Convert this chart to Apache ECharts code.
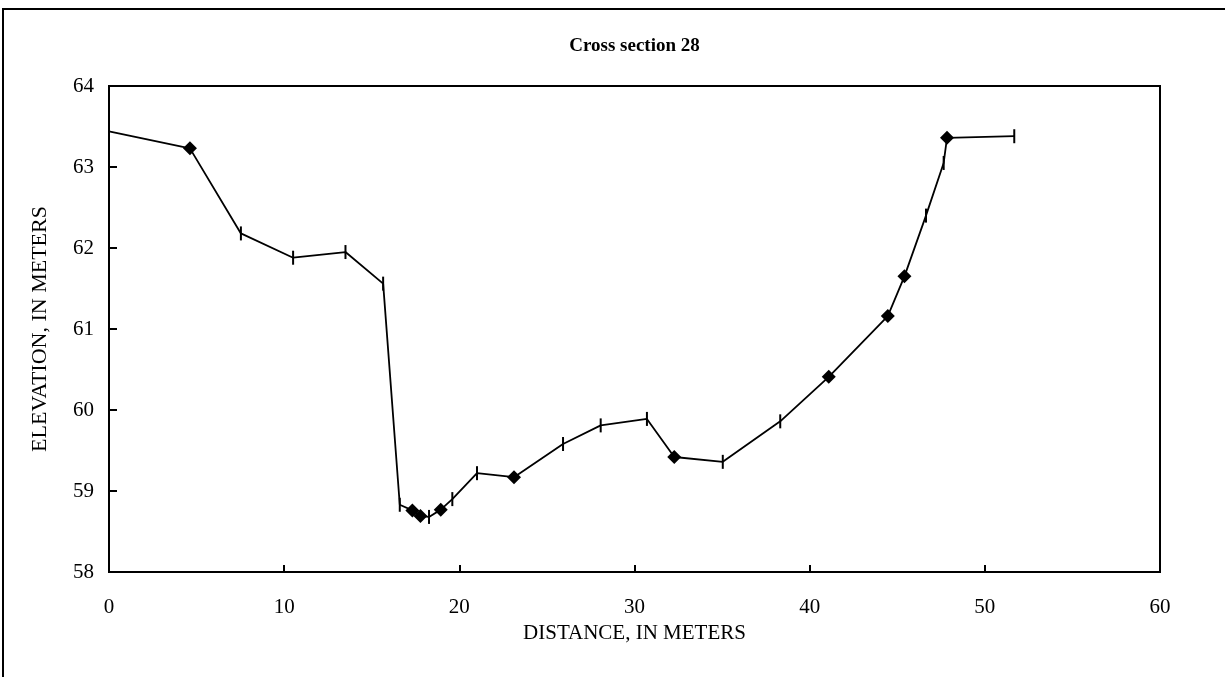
<!DOCTYPE html>
<html>
<head>
<meta charset="utf-8">
<script src="https://cdn.jsdelivr.net/npm/echarts@6/dist/echarts.min.js"></script>
<style>
html,body{margin:0;padding:0;background:#fff;}
#c{width:1225px;height:677px;}
</style>
</head>
<body>
<div id="c"></div>
<script>
// Data
var distance = [0, 4.62, 7.53, 10.51, 13.5, 15.65, 16.6, 17.32, 17.78, 18.27, 18.94, 19.6, 21.01, 23.12, 25.92, 28.07, 30.71, 32.27, 35.04, 38.32, 41.09, 44.46, 45.41, 46.64, 47.65, 47.84, 51.68];
var elevation = [63.44, 63.23, 62.18, 61.88, 61.95, 61.56, 58.83, 58.76, 58.69, 58.68, 58.77, 58.9, 59.22, 59.17, 59.58, 59.81, 59.89, 59.42, 59.36, 59.86, 60.41, 61.16, 61.65, 62.40, 63.05, 63.36, 63.38];
var markerType = ['tick','diamond','tick','tick','tick','tick','tick','diamond','diamond','tick','diamond','tick','tick','diamond','tick','tick','tick','diamond','tick','tick','diamond','diamond','diamond','tick','tick','diamond','tick'];
var xTicks = [0, 10, 20, 30, 40, 50, 60];
var yTicks = [58, 59, 60, 61, 62, 63, 64];
var titleText = 'Cross section 28';
var xName = 'DISTANCE, IN METERS';
var yName = 'ELEVATION, IN METERS';

var font = 'Liberation Serif, Times New Roman, serif';
var pts = distance.map(function (d, i) {
  var isD = markerType[i] === 'diamond';
  return {
    value: [d, elevation[i]],
    symbol: isD ? 'diamond' : 'rect',
    symbolSize: isD ? [14, 14] : [2, 14]
  };
});

var chart = echarts.init(document.getElementById('c'), null, {renderer: 'canvas'});
chart.setOption({
  backgroundColor: '#fff',
  animation: false,
  graphic: [{
    type: 'rect',
    x: 3, y: 9,
    shape: {x: 0, y: 0, width: 1300, height: 800},
    style: {fill: 'none', stroke: '#000', lineWidth: 2}
  }, {
    type: 'text',
    x: 634.5, y: 46,
    style: {
      text: titleText,
      font: 'bold 19px ' + font,
      fill: '#000',
      textAlign: 'center',
      textVerticalAlign: 'middle'
    }
  }],
  grid: {
    left: 109, right: 65, top: 86, bottom: 105,
    show: true, borderColor: '#000', borderWidth: 2, backgroundColor: 'transparent'
  },
  xAxis: {
    type: 'value',
    min: xTicks[0], max: xTicks[xTicks.length - 1], interval: 10,
    name: xName,
    nameLocation: 'middle',
    nameGap: 51,
    nameTextStyle: {fontFamily: font, fontSize: 21, color: '#000'},
    axisLine: {show: true, lineStyle: {color: '#000', width: 2}},
    axisTick: {show: true, inside: true, length: 7, lineStyle: {color: '#000', width: 2}},
    axisLabel: {fontFamily: font, fontSize: 21, color: '#000', margin: 25},
    splitLine: {show: false}
  },
  yAxis: {
    type: 'value',
    min: yTicks[0], max: yTicks[yTicks.length - 1], interval: 1,
    name: yName,
    nameLocation: 'middle',
    nameGap: 58,
    nameTextStyle: {fontFamily: font, fontSize: 22, color: '#000'},
    axisLine: {show: true, lineStyle: {color: '#000', width: 2}},
    axisTick: {show: true, inside: true, length: 8, lineStyle: {color: '#000', width: 2}},
    axisLabel: {fontFamily: font, fontSize: 21, color: '#000', margin: 15},
    splitLine: {show: false}
  },
  series: [{
    type: 'line',
    data: pts,
    clip: false,
    showAllSymbol: true,
    lineStyle: {color: '#000', width: 1.8},
    itemStyle: {color: '#000', borderWidth: 0}
  }]
});
</script>
</body>
</html>
